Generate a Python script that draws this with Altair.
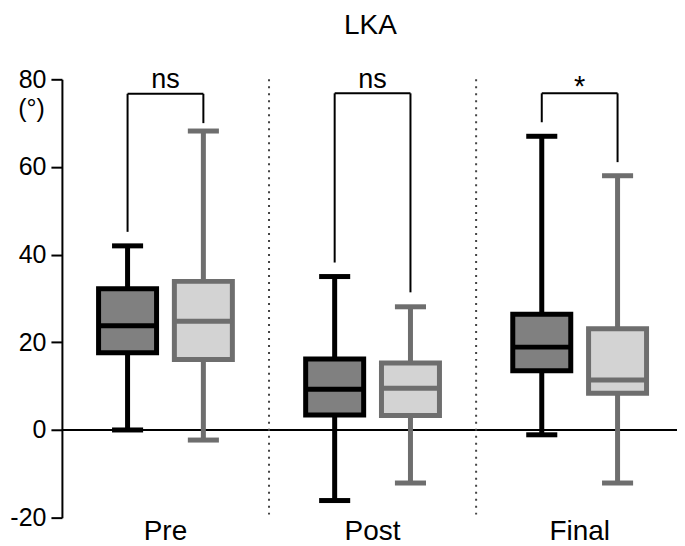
import altair as alt
import pandas as pd

# ---- data ----
categories = ["Pre", "Post", "Final"]
groups = ["Group 1", "Group 2"]

dark_min = [0.0, -16.1, -1.1]
dark_q1 = [17.6, 3.4, 13.5]
dark_med = [23.8, 9.3, 18.9]
dark_q3 = [32.2, 16.2, 26.4]
dark_max = [42.0, 35.0, 67.0]

light_min = [-2.3, -12.1, -12.1]
light_q1 = [16.1, 3.3, 8.4]
light_med = [24.8, 9.5, 11.4]
light_q3 = [33.9, 15.3, 23.1]
light_max = [68.2, 28.1, 58.0]

sig_labels = ["ns", "ns", "*"]
bracket_top = [76.7, 76.8, 76.8]
bracket_left_end = [45.2, 38.2, 70.2]
bracket_right_end = [70.0, 31.4, 61.1]

y_ticks = [-20, 0, 20, 40, 60, 80]
chart_title = "LKA"

# ---- layout helpers (positions in category units) ----
GROUP_OFF = 0.183
BOX_HALF = 0.14
CAP_HALF = 0.075

rows = []
for gi, (g, mins, q1s, meds, q3s, maxs) in enumerate([
    (groups[0], dark_min, dark_q1, dark_med, dark_q3, dark_max),
    (groups[1], light_min, light_q1, light_med, light_q3, light_max),
]):
    for ci, c in enumerate(categories):
        pos = ci + (-GROUP_OFF if gi == 0 else GROUP_OFF)
        rows.append(dict(category=c, group=g, pos=pos,
                         bx=pos - BOX_HALF, bx2=pos + BOX_HALF,
                         cx=pos - CAP_HALF, cx2=pos + CAP_HALF,
                         lo=mins[ci], q1=q1s[ci], med=meds[ci], q3=q3s[ci], hi=maxs[ci]))
df = pd.DataFrame(rows)

bdf = pd.DataFrame(dict(
    label=sig_labels,
    center=list(range(len(categories))),
    xl=[i - GROUP_OFF for i in range(len(categories))],
    xr=[i + GROUP_OFF for i in range(len(categories))],
    top=bracket_top, lend=bracket_left_end, rend=bracket_right_end,
))
bdf["ty"] = [78.0 if l != "*" else 76.2 for l in sig_labels]

cat_df = pd.DataFrame(dict(label=categories, center=list(range(len(categories)))))
sep_df = pd.DataFrame(dict(x=[0.5, 1.5], y=[80.0, 80.0], y2=[-19.3, -19.3]))
zero_df = pd.DataFrame(dict(y=[0.0]))
title_df = pd.DataFrame(dict(label=[chart_title]))

FONT = "Liberation Sans"
W, H = 616, 439
xscale = alt.Scale(domain=[-0.5, 2.47], nice=False, zero=False)
yscale = alt.Scale(domain=[-20, 80], nice=False, zero=False)

fill_scale = alt.Scale(domain=groups, range=["#808080", "#d3d3d3"])
stroke_scale = alt.Scale(domain=groups, range=["#000000", "#6e6e6e"])

yaxis = alt.Axis(values=y_ticks, grid=False, tickSize=11, tickWidth=2, domainWidth=2,
                 domainColor="black", tickColor="black", labelColor="black",
                 labelFont=FONT, labelFontSize=25, labelPadding=5,
                 labelExpr="'' + datum.value",
                 title="(°)", titleAngle=0, titleX=-31, titleY=29,
                 titleFont=FONT, titleFontSize=25, titleFontWeight="normal",
                 titleAlign="center", titleBaseline="middle", titleColor="black")

base = alt.Chart(df)
strokeC = alt.Stroke("group:N", scale=stroke_scale, legend=None)

whisker = base.mark_rule(strokeWidth=5).encode(
    x=alt.X("pos:Q", scale=xscale, axis=None),
    y=alt.Y("lo:Q", scale=yscale, axis=yaxis),
    y2="hi:Q",
    stroke=strokeC,
)
caps_hi = base.mark_rule(strokeWidth=5).encode(
    x=alt.X("cx:Q", scale=xscale, axis=None), x2="cx2:Q",
    y=alt.Y("hi:Q", scale=yscale), stroke=strokeC)
caps_lo = base.mark_rule(strokeWidth=5).encode(
    x=alt.X("cx:Q", scale=xscale, axis=None), x2="cx2:Q",
    y=alt.Y("lo:Q", scale=yscale), stroke=strokeC)
box = base.mark_rect(strokeWidth=5).encode(
    x=alt.X("bx:Q", scale=xscale, axis=None), x2="bx2:Q",
    y=alt.Y("q1:Q", scale=yscale), y2="q3:Q",
    fill=alt.Fill("group:N", scale=fill_scale, legend=None),
    stroke=strokeC,
)
median = base.mark_rule(strokeWidth=5).encode(
    x=alt.X("bx:Q", scale=xscale, axis=None), x2="bx2:Q",
    y=alt.Y("med:Q", scale=yscale), stroke=strokeC)

zero = alt.Chart(zero_df).mark_rule(color="black", strokeWidth=2).encode(
    y=alt.Y("y:Q", scale=yscale))

seps = alt.Chart(sep_df).mark_rule(color="#444444", strokeWidth=2, strokeDash=[2, 5]).encode(
    x=alt.X("x:Q", scale=xscale, axis=None),
    y=alt.Y("y:Q", scale=yscale), y2="y2:Q")

bchart = alt.Chart(bdf)
b_top = bchart.mark_rule(color="black", strokeWidth=2).encode(
    x=alt.X("xl:Q", scale=xscale, axis=None), x2="xr:Q", y=alt.Y("top:Q", scale=yscale))
b_left = bchart.mark_rule(color="black", strokeWidth=2).encode(
    x=alt.X("xl:Q", scale=xscale, axis=None), y=alt.Y("top:Q", scale=yscale), y2="lend:Q")
b_right = bchart.mark_rule(color="black", strokeWidth=2).encode(
    x=alt.X("xr:Q", scale=xscale, axis=None), y=alt.Y("top:Q", scale=yscale), y2="rend:Q")
b_text_ns = bchart.transform_filter(alt.datum.label != "*").mark_text(
    font=FONT, fontSize=27, baseline="alphabetic", align="center", color="black").encode(
    x=alt.X("center:Q", scale=xscale, axis=None), y=alt.Y("ty:Q", scale=yscale), text="label:N")
b_text_star = bchart.transform_filter(alt.datum.label == "*").mark_text(
    font=FONT, fontSize=29, baseline="alphabetic", align="center", color="black").encode(
    x=alt.X("center:Q", scale=xscale, axis=None), y=alt.Y("ty:Q", scale=yscale), text="label:N")

cat_labels = alt.Chart(cat_df).mark_text(
    font=FONT, fontSize=28, baseline="alphabetic", align="center", color="black").encode(
    x=alt.X("center:Q", scale=xscale, axis=None), y=alt.value(461), text="label:N")

title_mark = alt.Chart(title_df).mark_text(
    font=FONT, fontSize=28, baseline="alphabetic", align="center", color="black").encode(
    x=alt.value(309), y=alt.value(-45), text="label:N")

chart = alt.layer(
    zero, seps, whisker, caps_hi, caps_lo, box, median,
    b_top, b_left, b_right, b_text_ns, b_text_star, cat_labels, title_mark,
).properties(
    width=W, height=H,
    autosize=alt.AutoSizeParams(type="none"),
    padding={"left": 54, "top": 71, "right": 0, "bottom": 28},
).configure(background="white").configure_view(stroke=None)

chart.save("out.html", embed_options={"renderer": "svg", "actions": False})
